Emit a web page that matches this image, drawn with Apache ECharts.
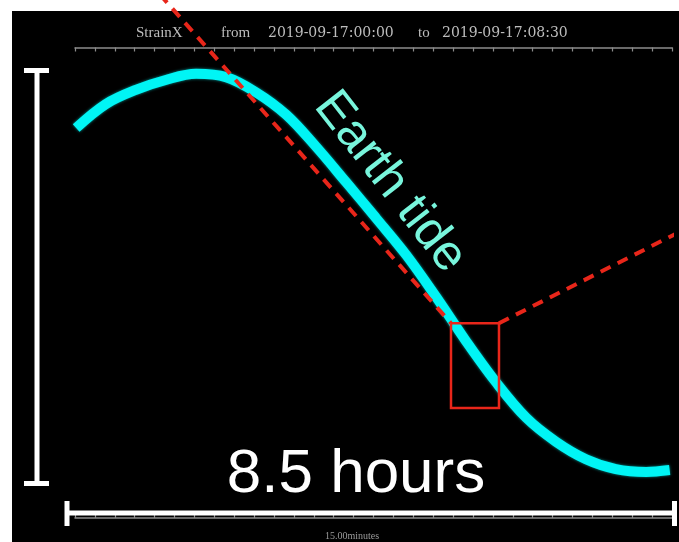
<!DOCTYPE html>
<html><head><meta charset="utf-8">
<script src="https://cdn.jsdelivr.net/npm/echarts@6/dist/echarts.min.js"></script>
<style>html,body{margin:0;padding:0;background:#fff}#c{width:679px;height:542px}</style>
</head><body><div id="c"></div>
<script>
// Strain record (minutes from 2019-09-17 00:00, relative strain units)
const timeMinutes = [1, 26.5, 52, 77.5, 103.5, 129, 154.5, 180.5, 206, 231.5, 257, 283, 308.5, 334, 359.5, 385.5, 411, 436.5, 462, 488, 508];
const strainValues = [82.9, 88.0, 91.0, 93.1, 94.4, 93.7, 90.5, 85.7, 78.9, 71.4, 63.8, 55.9, 47.0, 37.6, 28.9, 21.3, 16.2, 12.5, 10.4, 9.8, 10.2];

// Zoom-window annotation (same data units)
const zoomBoxTime = [321.2, 362.2];
const zoomBoxStrain = [23.4, 41.4];
const guideA_time = [61.7, 321.2];
const guideA_strain = [114.3, 41.4];
const guideB_time = [362.2, 533.9];
const guideB_strain = [41.4, 63.0];

// Axis
const xMin = 0, xMax = 510, xInterval = 17;
const yMin = 0, yMax = 100;

// Texts
const titleParts = ['StrainX', 'from', '2019-09-17:00:00', 'to', '2019-09-17:08:30'];
const bottomLabel = '15.00minutes';
const curveLabel = 'Earth tide';
const spanLabel = '8.5 hours';

const RED = '#e8261a';
const CYAN = '#00f5f5';

const zip = (a, b) => a.map((v, i) => [v, b[i]]);
const boxPoly = [
  [zoomBoxTime[0], zoomBoxStrain[1]], [zoomBoxTime[1], zoomBoxStrain[1]],
  [zoomBoxTime[1], zoomBoxStrain[0]], [zoomBoxTime[0], zoomBoxStrain[0]],
  [zoomBoxTime[0], zoomBoxStrain[1]]
];

const axisCommon = {
  type: 'value', min: xMin, max: xMax, interval: xInterval,
  axisLine: { show: true, onZero: false, lineStyle: { color: '#8c8c8c', width: 1.5 } },
  axisTick: { show: true, inside: true, length: 4, lineStyle: { color: '#8c8c8c', width: 1.2 } },
  axisLabel: { show: false }, splitLine: { show: false }
};

const chart = echarts.init(document.getElementById('c'), null, { renderer: 'canvas' });
const titleX = [136, 221, 268, 418, 442];
const titleFonts = ['Liberation Serif', 'Liberation Serif', 'DejaVu Serif', 'Liberation Serif', 'DejaVu Serif'];
const titleSizes = [15, 15, 14, 15, 14];

const graphics = [
  { type: 'rect', z: -10, shape: { x: 12, y: 11, width: 667, height: 531 }, style: { fill: '#000' }, silent: true }
];
titleParts.forEach((t, i) => graphics.push({
  type: 'text', z: 50, x: titleX[i], y: 33,
  style: { text: t, fill: '#bdbdbd', font: titleSizes[i] + 'px "' + titleFonts[i] + '"', align: 'left', verticalAlign: 'middle' }
}));
graphics.push(
  { type: 'text', z: 50, x: 352, y: 536, style: { text: bottomLabel, fill: '#9a9a9a', font: '10px "Liberation Serif"', align: 'center', verticalAlign: 'middle' } },
  // vertical scale bar
  { type: 'rect', z: 60, shape: { x: 34.5, y: 70, width: 5, height: 414 }, style: { fill: '#fff' } },
  { type: 'rect', z: 60, shape: { x: 24, y: 68, width: 25, height: 5 }, style: { fill: '#fff' } },
  { type: 'rect', z: 60, shape: { x: 24, y: 481, width: 25, height: 5 }, style: { fill: '#fff' } },
  // horizontal span bar
  { type: 'rect', z: 60, shape: { x: 65, y: 510.5, width: 611, height: 5 }, style: { fill: '#fff' } },
  { type: 'rect', z: 60, shape: { x: 64.5, y: 501, width: 5, height: 25 }, style: { fill: '#fff' } },
  { type: 'rect', z: 60, shape: { x: 672, y: 501, width: 5, height: 25 }, style: { fill: '#fff' } },
  { type: 'text', z: 60, x: 356, y: 475, style: { text: spanLabel, fill: '#fff', font: '62px "Liberation Sans"', align: 'center', verticalAlign: 'middle' } },
  { type: 'text', z: 60, x: 390, y: 182, rotation: -52 * Math.PI / 180,
    style: { text: curveLabel, fill: '#78f5dc', font: '50px "Liberation Sans"', align: 'center', verticalAlign: 'middle' } }
);

chart.setOption({
  backgroundColor: '#ffffff',
  animation: false,
  grid: { left: 75, right: 7, top: 47.5, bottom: 24 },
  xAxis: [
    Object.assign({ position: 'top' }, axisCommon),
    Object.assign({ position: 'bottom' }, axisCommon)
  ],
  yAxis: { type: 'value', min: yMin, max: yMax, show: false, axisLine: { onZero: false } },
  graphic: graphics,
  series: [
    {
      name: 'StrainX', type: 'line', xAxisIndex: 0, data: zip(timeMinutes, strainValues),
      smooth: 0.35, showSymbol: false, clip: false, silent: true, z: 3,
      lineStyle: { color: CYAN, width: 10, cap: 'butt', shadowColor: 'rgba(0,255,255,0.6)', shadowBlur: 3 }
    },
    {
      type: 'line', xAxisIndex: 0, data: zip(guideA_time, guideA_strain), showSymbol: false, clip: false, silent: true, z: 5,
      lineStyle: { color: RED, width: 4, type: [11, 8], cap: 'butt' }
    },
    {
      type: 'line', xAxisIndex: 0, data: zip(guideB_time, guideB_strain), showSymbol: false, clip: false, silent: true, z: 5,
      lineStyle: { color: RED, width: 4, type: [11, 8], cap: 'butt' }
    },
    {
      type: 'line', xAxisIndex: 0, data: boxPoly, showSymbol: false, clip: false, silent: true, z: 5,
      lineStyle: { color: RED, width: 2.5, join: 'miter' }
    }
  ]
});
</script></body></html>
